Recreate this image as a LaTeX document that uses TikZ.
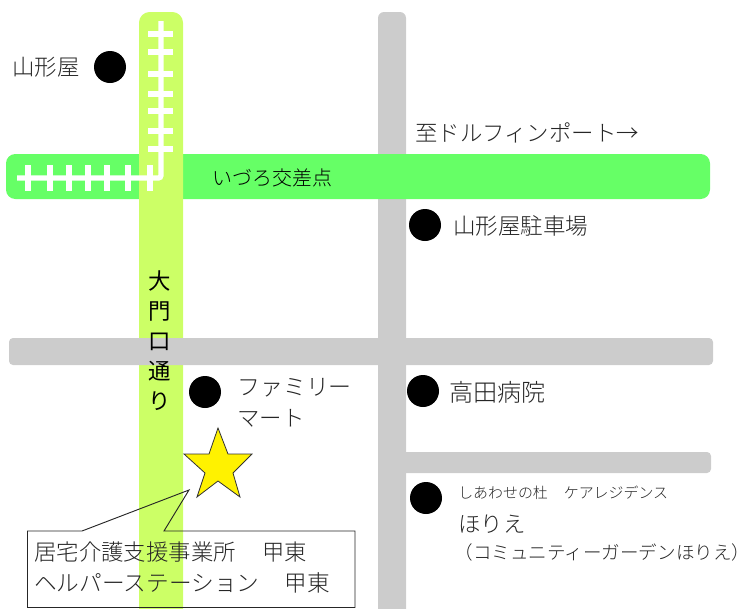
\documentclass[tikz,border=0pt]{standalone}
\usepackage{fontspec}
\setmainfont{Noto Sans CJK JP Light}
\newfontfamily\cjkreg{Noto Sans CJK JP}
\usetikzlibrary{shapes.geometric}
\definecolor{roadgreen}{HTML}{66FF66}
\definecolor{lime}{HTML}{CCFF66}
\definecolor{roadgray}{HTML}{CCCCCC}
\newcommand{\px}[1]{\fontsize{#1pt}{#1pt}\selectfont}
\tikzset{
  lbl/.style={inner sep=0pt,anchor=west,text=black!85},
  big/.style={lbl,font=\px{16.8}},
  mid/.style={lbl,font=\px{13.5}},
  small/.style={lbl,font=\px{11.2}},
  dotmark/.style={circle,fill=black,inner sep=0pt,minimum size=24pt},
  rail/.style={draw=white,line width=4pt},
  tie/.style={draw=white,line width=4pt},
}
\begin{document}
\begin{tikzpicture}[x=0.75pt,y=-0.75pt]
\useasboundingbox (0,0) rectangle (751,608);
\fill[roadgray,rounded corners=4.5pt] (378,12) -- (406,12) -- (406,620) -- (378,620) -- cycle;
\fill[roadgreen,rounded corners=7pt] (6,154) rectangle (710,199);
\fill[lime,rounded corners=8pt] (139,12) -- (183,12) -- (183,640) -- (139,640) -- cycle;
\fill[roadgray,rounded corners=3pt] (9,338) rectangle (713,365);
\fill[roadgray,rounded corners=3pt] (400,452) rectangle (711,473);
% railway
\draw[rail,rounded corners=2pt] (161,21) -- (161,178) -- (17,178);
\foreach \yy in {34,52,74,94,111,131,149} \draw[tie] (148,\yy) -- (173,\yy);
\foreach \xx in {28,50,69,88,107,128,150} \draw[tie] (\xx,165) -- (\xx,191);
% dots
\node[dotmark] (d1) at (110,67) {};
\node[dotmark] (d2) at (425,225) {};
\node[dotmark] (d3) at (205,392) {};
\node[dotmark] (d4) at (423,391) {};
\node[dotmark] (d5) at (426,498) {};
% star
\draw[draw=black!80,fill=yellow,line width=0.6pt] (218,428) -- (228,454) -- (252,454) -- (233,473) -- (240,497) -- (218,481) -- (197,497) -- (205,473) -- (184,454) -- (209,454) -- cycle;
% callout
\coordinate (tip) at (189,490);
\draw[black!85,line width=0.7pt] (27.5,531) -- (82,531) -- (tip) -- (164,531) -- (355,531) -- (355,607.5) -- (27.5,607.5) -- cycle;
% labels
\node[big] (a1) at (12,67) {山形屋};
\node[big] (a2) at (415,133) {至ドルフィンポート→};
\node[lbl,text=black,font=\px{15}] (a3) at (212,178) {いづろ交差点};
\node[big,font=\px{16.9}] (a4) at (453,226) {山形屋駐車場};
\node[big,font=\px{18.1}] (a5) at (449,392) {高田病院};
\node[big,font=\px{17.2}] (a6) at (237,388) {ファミリー};
\node[big] (a7) at (237,418) {マート};
\node[lbl,text=black,anchor=north,align=center,font={\cjkreg\fontsize{16.8pt}{22.5pt}\selectfont}] (a8) at (160,270) {大\\門\\口\\通\\り};
\node[small] (a9) at (458,493) {しあわせの杜\hspace{12pt}ケアレジデンス};
\node[big] (a10) at (458,524) {ほりえ};
\node[mid,font=\px{13.9}] (a11) at (454.5,552) {（コミュニティーガーデンほりえ）};
\node[big] (a12) at (34,552) {居宅介護支援事業所\hspace{20pt}甲東};
\node[big,font=\px{17}] (a13) at (34,583) {ヘルパーステーション\hspace{19pt}甲東};
\end{tikzpicture}
\end{document}
